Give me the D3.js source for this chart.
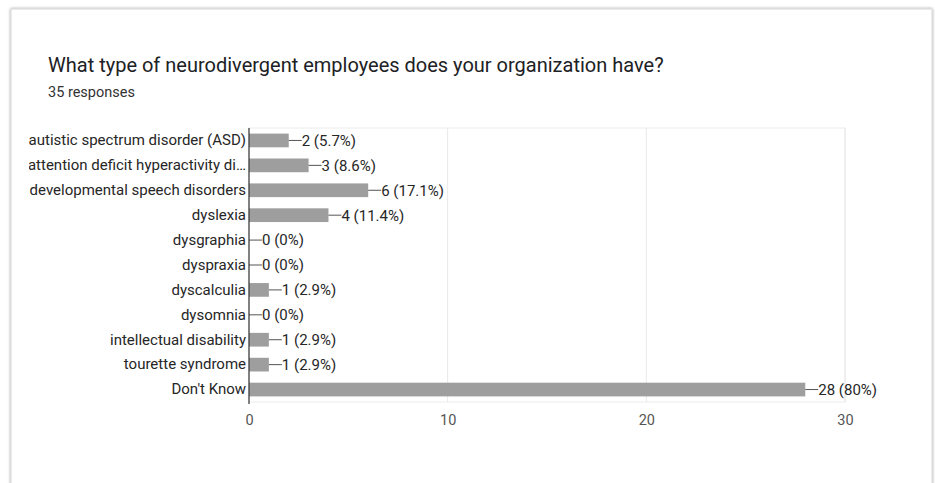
<!DOCTYPE html>
<html>
<head>
<meta charset="utf-8">
<script src="https://cdn.jsdelivr.net/npm/d3@7"></script>
<style>
  html, body { margin: 0; padding: 0; background: #fff; }
  svg { display: block; }
</style>
</head>
<body>
<svg id="chart" width="935" height="483"></svg>
<script>
// Survey answers and counts
const categories = [
  "autistic spectrum disorder (ASD)",
  "attention deficit hyperactivity di\u2026",
  "developmental speech disorders",
  "dyslexia",
  "dysgraphia",
  "dyspraxia",
  "dyscalculia",
  "dysomnia",
  "intellectual disability",
  "tourette syndrome",
  "Don't Know"
];
const counts = [2, 3, 6, 4, 0, 0, 1, 0, 1, 1, 28];
const percentLabels = ["5.7%", "8.6%", "17.1%", "11.4%", "0%", "0%", "2.9%", "0%", "2.9%", "2.9%", "80%"];
const tickValues = [0, 10, 20, 30];
const title = "What type of neurodivergent employees does your organization have?";
const subtitle = "35 responses";

const svg = d3.select("#chart");
const font = "Roboto, 'Liberation Sans', Arial, sans-serif";

// Card background with a soft edge
const defs = svg.append("defs");
const shadow = defs.append("filter").attr("id", "cardShadow")
  .attr("x", "-5%").attr("y", "-5%").attr("width", "110%").attr("height", "110%");
shadow.append("feGaussianBlur").attr("in", "SourceAlpha").attr("stdDeviation", 1.5);
shadow.append("feOffset").attr("dx", -0.5).attr("dy", 0).attr("result", "b");
shadow.append("feComponentTransfer").append("feFuncA").attr("type", "linear").attr("slope", 0.4);
const merge = shadow.append("feMerge");
merge.append("feMergeNode");
merge.append("feMergeNode").attr("in", "SourceGraphic");

svg.append("rect")
  .attr("x", 11).attr("y", 9).attr("width", 921).attr("height", 490)
  .attr("fill", "#fff")
  .attr("stroke", "#d6d6d6").attr("stroke-width", 1)
  .attr("filter", "url(#cardShadow)");

// Clip region for the category labels
defs.append("clipPath").attr("id", "labelClip")
  .append("rect").attr("x", 29).attr("y", 0).attr("width", 906).attr("height", 483);

svg.append("text")
  .attr("x", 48).attr("y", 72)
  .attr("font-family", font).attr("font-size", 20)
  .attr("fill", "#202124")
  .text(title);

svg.append("text")
  .attr("x", 48).attr("y", 97)
  .attr("font-family", font).attr("font-size", 14.5)
  .attr("fill", "#333")
  .text(subtitle);

const margin = { left: 249, right: 90, top: 128, bottom: 81 };
const plotW = 935 - margin.left - margin.right;
const plotH = 483 - margin.top - margin.bottom;

const x = d3.scaleLinear().domain([0, 30]).range([margin.left, margin.left + plotW]);
const y = d3.scaleBand().domain(categories).range([margin.top, margin.top + plotH]).paddingInner(0.45).paddingOuter(0.225);

// Plot frame and vertical gridlines
svg.append("rect")
  .attr("x", x(0)).attr("y", margin.top)
  .attr("width", x(30) - x(0)).attr("height", plotH)
  .attr("fill", "none").attr("stroke", "#ececec").attr("stroke-width", 1);

svg.append("g")
  .selectAll("line")
  .data(tickValues.slice(1))
  .join("line")
  .attr("x1", d => x(d)).attr("x2", d => x(d))
  .attr("y1", margin.top).attr("y2", margin.top + plotH)
  .attr("stroke", "#e8e8e8").attr("stroke-width", 1);

// Bars
svg.append("g")
  .selectAll("rect")
  .data(categories)
  .join("rect")
  .attr("x", x(0))
  .attr("y", d => y(d))
  .attr("width", (d, i) => x(counts[i]) - x(0))
  .attr("height", y.bandwidth())
  .attr("fill", "#9e9e9e");

// Leader lines and value labels
const valueG = svg.append("g");
categories.forEach((c, i) => {
  const cy = y(c) + y.bandwidth() / 2;
  const xe = x(counts[i]);
  valueG.append("line")
    .attr("x1", xe).attr("x2", xe + 13)
    .attr("y1", cy).attr("y2", cy)
    .attr("stroke", "#555").attr("stroke-width", 1);
  valueG.append("text")
    .attr("x", xe + 13).attr("y", cy)
    .attr("dy", "0.36em")
    .attr("font-family", font).attr("font-size", 15)
    .attr("fill", "#262626")
    .text(`${counts[i]} (${percentLabels[i]})`);
});

// Category axis, clipped at the left edge of the card content
const clipG = svg.append("g").attr("clip-path", "url(#labelClip)");
const yAxis = clipG.append("g")
  .attr("transform", `translate(${x(0)},0)`)
  .call(d3.axisLeft(y).tickSize(0).tickPadding(3));
yAxis.select(".domain").remove();
yAxis.selectAll("text")
  .attr("font-family", font).attr("font-size", 15)
  .attr("fill", "#262626");

svg.append("line")
  .attr("x1", x(0)).attr("x2", x(0))
  .attr("y1", margin.top).attr("y2", margin.top + plotH + 2)
  .attr("stroke", "#333").attr("stroke-width", 1.2);

// Value axis
const xAxis = svg.append("g")
  .attr("transform", `translate(0,${margin.top + plotH})`)
  .call(d3.axisBottom(x).tickValues(tickValues).tickSize(0).tickPadding(13));
xAxis.select(".domain").remove();
xAxis.selectAll("text")
  .attr("font-family", font).attr("font-size", 14.5)
  .attr("fill", "#555");
</script>
</body>
</html>
